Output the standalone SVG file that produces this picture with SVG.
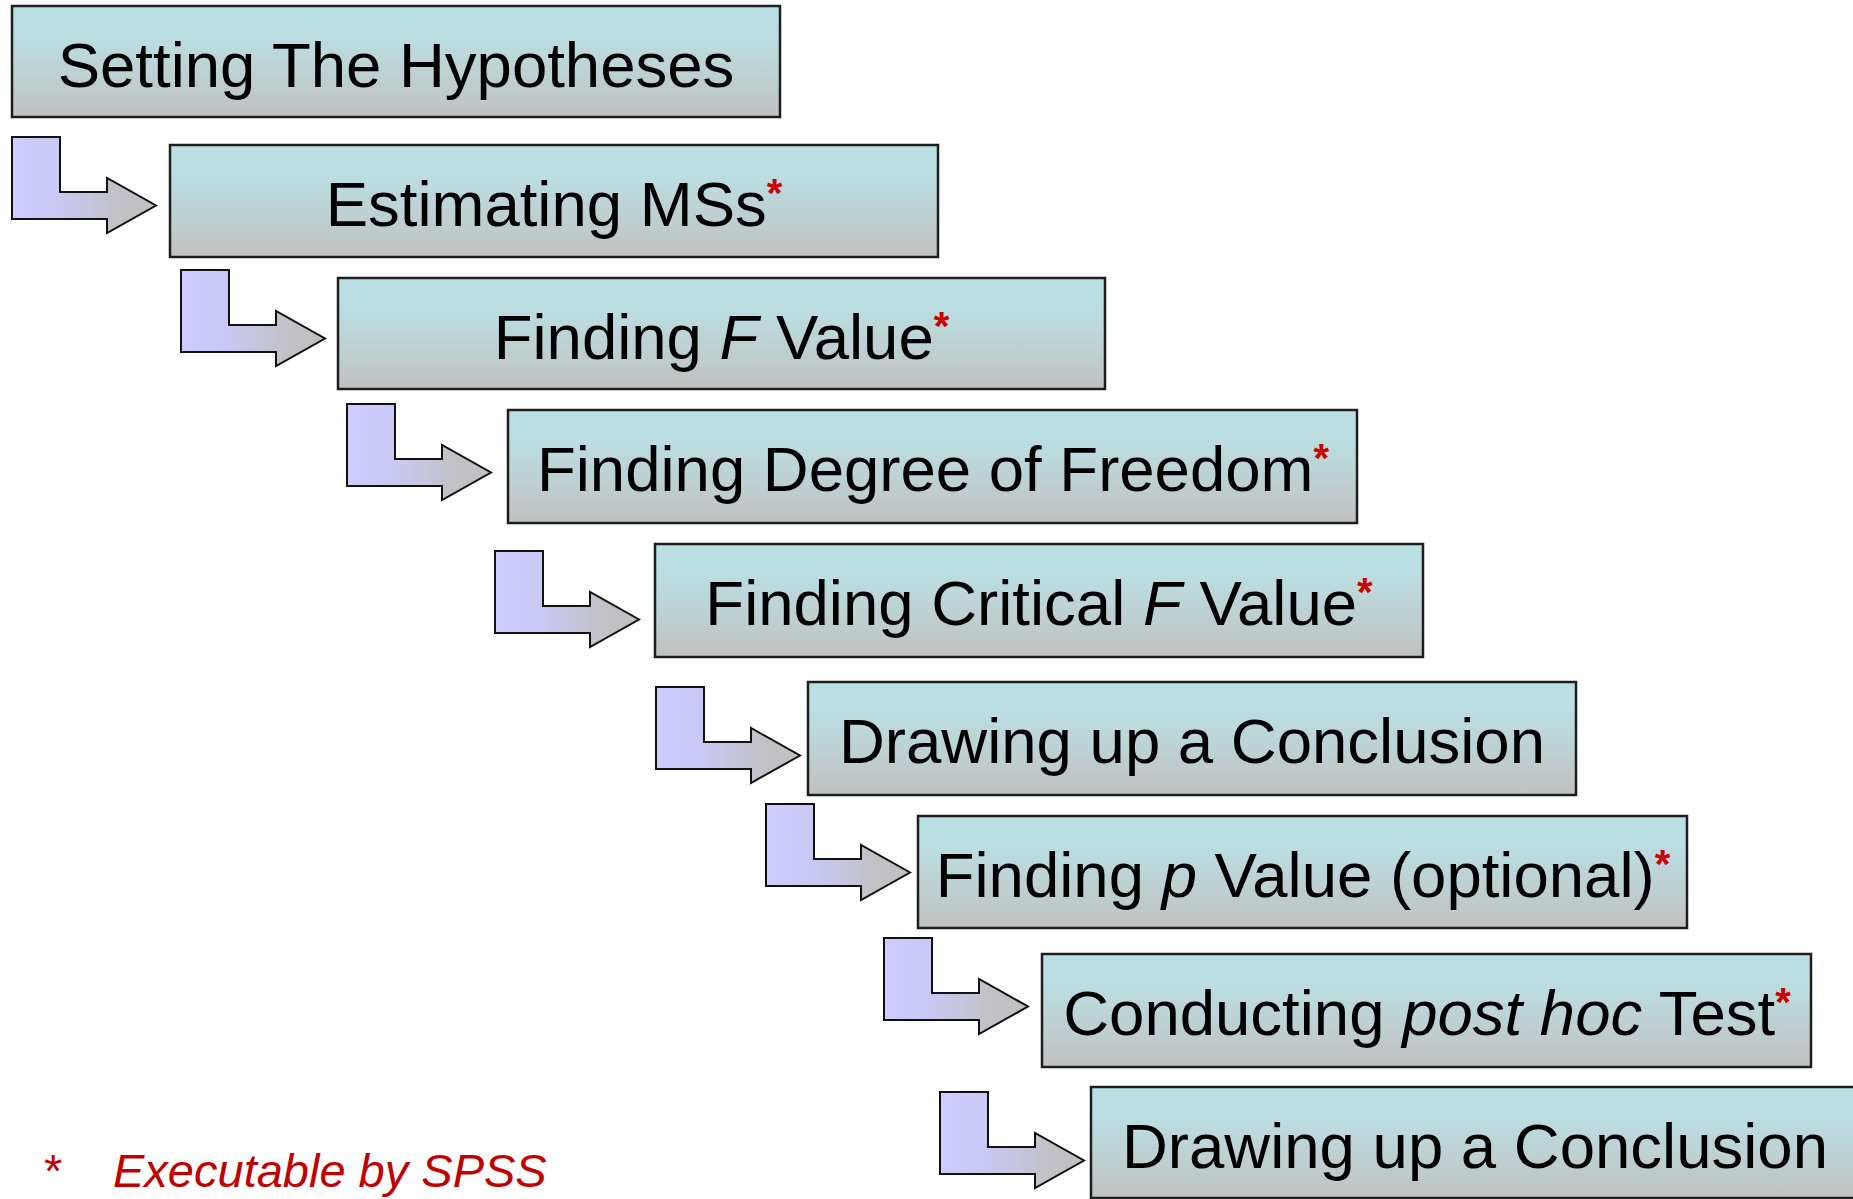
<svg xmlns="http://www.w3.org/2000/svg" width="1853" height="1199" viewBox="0 0 1853 1199">
  <defs>
    <linearGradient id="boxFill" x1="0" y1="0" x2="0" y2="1">
      <stop offset="0" stop-color="#BAE0E3"/>
      <stop offset="0.3" stop-color="#BBDDE0"/>
      <stop offset="1" stop-color="#C1C1C1"/>
    </linearGradient>
    <linearGradient id="arrowFill" x1="0" y1="0" x2="1" y2="0">
      <stop offset="0" stop-color="#CCCCFF"/>
      <stop offset="0.3" stop-color="#C9C9F6"/>
      <stop offset="0.75" stop-color="#C1C1C6"/>
      <stop offset="1" stop-color="#C0C0C0"/>
    </linearGradient>
    <path id="bend" d="M0,0 H48 V55 H95 V41 L144,68.5 L95,96 V82 H0 Z"/>
  </defs>
  <style>
    .box { fill: url(#boxFill); stroke: #1E1E1E; stroke-width: 2.5; }
    .arrow { fill: url(#arrowFill); stroke: #111111; stroke-width: 2; stroke-linejoin: miter; }
    .label { font-family: "Liberation Sans", Arial, sans-serif; font-size: 63.5px; fill: #000000; text-anchor: middle; }
    .it { font-style: italic; }
    .star { fill: #CC0000; font-size: 40px; font-weight: bold; }
    .note { font-family: "Liberation Sans", Arial, sans-serif; font-size: 47px; fill: #C00000; }
  </style>

  <g id="connectors">
    <use href="#bend" class="arrow" transform="translate(12,137)"/>
    <use href="#bend" class="arrow" transform="translate(181,270)"/>
    <use href="#bend" class="arrow" transform="translate(347,404)"/>
    <use href="#bend" class="arrow" transform="translate(495,551)"/>
    <use href="#bend" class="arrow" transform="translate(656,687)"/>
    <use href="#bend" class="arrow" transform="translate(766,804)"/>
    <use href="#bend" class="arrow" transform="translate(884,938)"/>
    <use href="#bend" class="arrow" transform="translate(940,1092)"/>
  </g>

  <g id="node-hypotheses">
    <rect class="box" x="12" y="6" width="768" height="111"/>
    <text class="label" x="396" y="87">Setting The Hypotheses</text>
  </g>
  <g id="node-ms">
    <rect class="box" x="170" y="145" width="768" height="112"/>
    <text class="label" x="554" y="226">Estimating MSs<tspan class="star" dy="-19">*</tspan></text>
  </g>
  <g id="node-fvalue">
    <rect class="box" x="338" y="278" width="767" height="111"/>
    <text class="label" x="721.5" y="359">Finding <tspan class="it">F</tspan> Value<tspan class="star" dy="-19">*</tspan></text>
  </g>
  <g id="node-df">
    <rect class="box" x="508" y="410" width="849" height="113"/>
    <text class="label" x="933" y="491">Finding Degree of Freedom<tspan class="star" dy="-19">*</tspan></text>
  </g>
  <g id="node-critical">
    <rect class="box" x="655" y="544" width="768" height="113"/>
    <text class="label" x="1039" y="625">Finding Critical  <tspan class="it">F</tspan> Value<tspan class="star" dy="-19">*</tspan></text>
  </g>
  <g id="node-conclusion1">
    <rect class="box" x="808" y="682" width="768" height="113"/>
    <text class="label" x="1192" y="763">Drawing up a Conclusion</text>
  </g>
  <g id="node-pvalue">
    <rect class="box" x="918" y="816" width="769" height="112"/>
    <text class="label" x="1303" y="897">Finding <tspan class="it">p</tspan> Value (optional)<tspan class="star" dy="-19">*</tspan></text>
  </g>
  <g id="node-posthoc">
    <rect class="box" x="1042" y="954" width="769" height="113"/>
    <text class="label" x="1427" y="1035">Conducting <tspan class="it">post hoc</tspan> Test<tspan class="star" dy="-19">*</tspan></text>
  </g>
  <g id="node-conclusion2">
    <rect class="box" x="1091" y="1087" width="768" height="111"/>
    <text class="label" x="1475" y="1168">Drawing up a Conclusion</text>
  </g>

  <g id="footnote">
    <text class="note" x="44" y="1187">*</text>
    <text class="note" x="113" y="1187" font-style="italic">Executable by SPSS</text>
  </g>
</svg>
